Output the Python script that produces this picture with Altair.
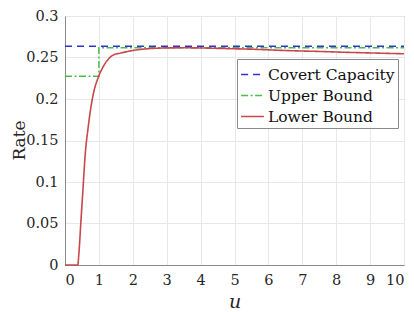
import altair as alt
import pandas as pd

# Covert capacity (flat)
cc_u = [0, 10]
cc_r = [0.2637, 0.2637]

# Upper bound (step at u = 1)
ub_u = [0, 1, 1, 10]
ub_r = [0.2275, 0.2275, 0.2618, 0.2618]

# Lower bound
lb_u = [0, 0.375, 0.41, 0.47, 0.53, 0.59, 0.69, 0.755, 0.84, 0.98, 1.1, 1.22, 1.42,
        1.66, 2.0, 2.25, 2.6, 3.0, 3.5, 4.0, 4.5, 5.0, 5.5, 6.0, 6.5, 7.0, 7.6, 8.0, 9.0, 10.0]
lb_r = [0, 0, 0.014, 0.053, 0.091, 0.13, 0.168, 0.1875, 0.207, 0.226, 0.237, 0.245, 0.2529,
        0.2555, 0.2585, 0.2598, 0.261, 0.2615, 0.2617, 0.2615, 0.261, 0.2605, 0.26, 0.2592,
        0.2584, 0.2578, 0.2572, 0.2566, 0.2555, 0.2545]

series = ["Covert Capacity", "Upper Bound", "Lower Bound"]
colors = ["#3030d8", "#4cbb4c", "#c9474a"]
dashes = [[7, 5], [7, 2.5, 2, 2.5], [1, 0]]

rows = []
for name, us, rs in [(series[0], cc_u, cc_r), (series[1], ub_u, ub_r), (series[2], lb_u, lb_r)]:
    for i, (u, r) in enumerate(zip(us, rs)):
        rows.append({"series": name, "u": u, "rate": r, "order": i})
df = pd.DataFrame(rows)

FONT = "DejaVu Serif"

x = alt.X("u:Q", scale=alt.Scale(domain=[0, 10], nice=False),
          axis=alt.Axis(values=list(range(11)), title="u", titleFontStyle="italic",
                        titleFontWeight="normal", titleFontSize=19, titleY=42,
                        titleBaseline="alphabetic", labelPadding=8, labelFontSize=14.5,
                        labelFont=FONT, titleFont=FONT))
y = alt.Y("rate:Q", scale=alt.Scale(domain=[0, 0.3], nice=False),
          axis=alt.Axis(values=[0, 0.05, 0.1, 0.15, 0.2, 0.25, 0.3], format=".2~f",
                        title="Rate", titleFontWeight="normal", titleFontSize=17,
                        titleX=-46, titleY=124, titleAngle=270, titleAlign="center",
                        titleBaseline="middle", labelPadding=7, labelFontSize=14.5,
                        labelFont=FONT, titleFont=FONT))

legend_opts = dict(title=None, orient="none", legendX=172, legendY=43,
                   symbolType="stroke", symbolSize=520, symbolStrokeWidth=1.6,
                   labelFontSize=15.5, labelFont=FONT, labelColor="#111",
                   labelOffset=3, rowPadding=0, padding=3,
                   fillColor="white", strokeColor="#8a8a8a", labelLimit=300)

color = alt.Color("series:N", scale=alt.Scale(domain=series, range=colors),
                  legend=alt.Legend(**legend_opts))
dash = alt.StrokeDash("series:N", scale=alt.Scale(domain=series, range=dashes),
                      legend=alt.Legend(**legend_opts))

base = alt.Chart(df).encode(x=x, y=y, color=color, strokeDash=dash, order="order:Q")

lines_straight = base.transform_filter(alt.datum.series != "Lower Bound").mark_line(strokeWidth=1.5)
lines_smooth = base.transform_filter(alt.datum.series == "Lower Bound").mark_line(
    strokeWidth=1.6, interpolate="monotone")

chart = (lines_straight + lines_smooth).properties(
    width=339, height=249,
    padding={"left": 57, "top": 8, "right": 2, "bottom": 47},
    autosize=alt.AutoSizeParams(type="none"),
).configure(font=FONT).configure_axis(
    grid=True, gridColor="#e8e8e8", gridWidth=1, domainColor="#8a8a8a",
    ticks=False, tickSize=0,
    labelColor="#262626", titleColor="#262626",
).configure_view(stroke="#8a8a8a", strokeWidth=1)

chart.save("out.html", embed_options={"renderer": "svg", "actions": False})
